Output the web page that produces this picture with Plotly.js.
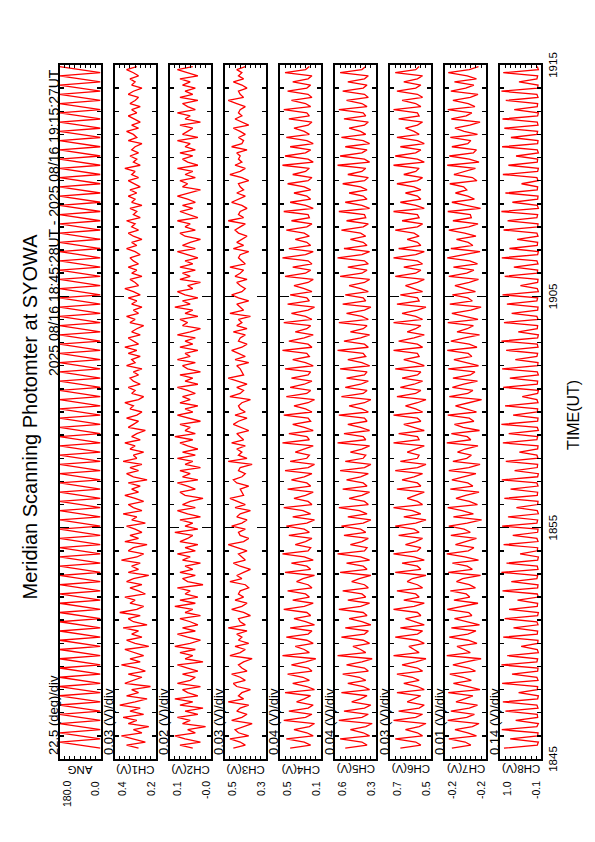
<!DOCTYPE html>
<html><head><meta charset="utf-8">
<script src="https://cdn.plot.ly/plotly-3.0.1.min.js"></script>
<style>
html,body{margin:0;padding:0;width:595px;height:842px;overflow:hidden;background:#fff;}
#plot{position:absolute;left:0;top:0;width:842px;height:595px;transform-origin:0 0;transform:translate(0,842px) rotate(-90deg);}
</style></head><body><div id="plot"></div>
<script>
// ---------------- data ----------------
const TITLE = 'Meridian Scanning Photomter at SYOWA';
const SUBTITLE = '2025 08/16 18:45:28UT - 2025 08/16 19:15:27UT';
const X_TITLE = 'TIME(UT)';
// time in seconds after 18:45:00 ; samples every 8 s from 18:45:28
const START_SEC = 28, STEP_SEC = 8;
const TIME_TICK_SEC = [0, 600, 1200, 1800];
const TIME_TICK_TEXT = ['1845', '1855', '1905', '1915'];

const CHANNEL_NAMES = ['ANG', 'CH1(V)', 'CH2(V)', 'CH3(V)', 'CH4(V)', 'CH5(V)', 'CH6(V)', 'CH7(V)', 'CH8(V)'];
const DIV_LABELS = ['22.5 (deg)/div', '0.03 (V)/div', '0.02 (V)/div', '0.03 (V)/div', '0.04 (V)/div', '0.04 (V)/div', '0.03 (V)/div', '0.01 (V)/div', '0.14 (V)/div'];
const DIV_VALUES = [22.5, 0.03, 0.02, 0.03, 0.04, 0.04, 0.03, 0.01, 0.14];
const Y_BOTTOM = [0, 0.20, -0.03, 0.28, 0.14, 0.28, 0.48, -0.245, -0.10];
const TOP_LABELS = ['180.0', '0.4', '0.1', '0.5', '0.5', '0.6', '0.7', '-0.2', '1.0'];
const BOTTOM_LABELS = ['0.0', '0.2', '-0.0', '0.3', '0.1', '0.3', '0.5', '-0.2', '-0.1'];

const ANG = [
0,90,180,0,90,180,0,90,180,0,90,180, 0,90,180,0,90,180,0,90,180,0,90,180,
0,90,180,0,90,180,0,90,180,0,90,180, 0,90,180,0,90,180,0,90,180,0,90,180,
0,90,180,0,90,180,0,90,180,0,90,180, 0,90,180,0,90,180,0,90,180,0,90,180,
0,90,180,0,90,180,0,90,180,0,90,180, 0,90,180,0,90,180,0,90,180,0,90,180,
0,90,180,0,90,180,0,90,180,0,90,180, 0,90,180,0,90,180,0,90,180,0,90,180,
0,90,180,0,90,180,0,90,180,0,90,180, 0,90,180,0,90,180,0,90,180,0,90,180,
0,90,180,0,90,180,0,90,180,0,90,180, 0,90,180,0,90,180,0,90,180,0,90,180,
0,90,180,0,90,180,0,90,180,0,90,180, 0,90,180,0,90,180,0,90,180,0,90,180,
0,90,180,0,90,180,0,90,180,0,90,180, 0,90,180,0,90,180,0,90,180,0,90,180,
0,90,180,0,90,180];

const CH1 = [
0.30,0.37,0.26,0.34,0.40,0.28,0.33,0.24,0.36,0.31,0.39,0.27,
0.35,0.29,0.41,0.32,0.25,0.37,0.30,0.34,0.23,0.38,0.33,0.28,
0.36,0.26,0.31,0.40,0.29,0.35,0.27,0.33,0.38,0.24,0.32,0.37,
0.28,0.34,0.30,0.39,0.25,0.33,0.36,0.29,0.41,0.31,0.27,0.35,
0.32,0.38,0.26,0.30,0.35,0.28,0.37,0.33,0.24,0.36,0.30,0.34,
0.29,0.40,0.31,0.27,0.36,0.33,0.25,0.38,0.30,0.35,0.28,0.32,
0.37,0.26,0.34,0.31,0.39,0.28,0.33,0.36,0.27,0.32,0.38,0.30,
0.34,0.29,0.36,0.25,0.33,0.37,0.30,0.35,0.28,0.39,0.31,0.33,
0.27,0.35,0.32,0.38,0.29,0.34,0.31,0.26,0.36,0.33,0.30,0.37,
0.31,0.28,0.35,0.33,0.38,0.30,0.27,0.34,0.32,0.36,0.29,0.33,
0.35,0.30,0.33,0.28,0.37,0.32,0.34,0.29,0.36,0.31,0.38,0.30,
0.33,0.36,0.29,0.34,0.31,0.27,0.35,0.32,0.37,0.30,0.33,0.28,
0.34,0.31,0.36,0.29,0.33,0.38,0.30,0.32,0.35,0.28,0.34,0.31,
0.36,0.30,0.33,0.35,0.29,0.32,0.37,0.31,0.34,0.28,0.33,0.36,
0.30,0.34,0.32,0.37,0.29,0.33,0.31,0.35,0.28,0.34,0.32,0.36,
0.31,0.35,0.29,0.33,0.36,0.30,0.34,0.32,0.38,0.29,0.33,0.31,
0.35,0.30,0.34,0.32,0.28,0.36,0.31,0.33,0.37,0.30,0.34,0.29,
0.33,0.36,0.31,0.34,0.29,0.35,0.32,0.30,0.36,0.33,0.28,0.34,
0.32,0.35,0.30,0.33,0.37,0.31];

const CH2 = [
0.04,0.09,0.01,0.07,0.11,0.03,0.06,-0.01,0.08,0.05,0.10,0.02,
0.07,0.00,0.09,0.04,0.11,0.02,0.06,0.08,0.01,0.10,0.05,0.03,
0.08,0.02,0.06,0.10,0.00,0.07,0.04,0.09,0.03,0.11,0.05,0.01,
0.06,0.10,0.03,0.08,0.02,0.05,0.09,0.01,0.07,0.04,0.11,0.03,
0.09,0.02,0.07,0.05,0.10,0.00,0.06,0.08,0.03,0.09,0.04,0.07,
0.01,0.08,0.05,0.10,0.03,0.07,0.02,0.09,0.06,0.04,0.11,0.02,
0.07,0.04,0.09,0.01,0.06,0.10,0.03,0.08,0.05,0.00,0.07,0.09,
0.03,0.06,0.10,0.02,0.08,0.05,0.09,0.01,0.07,0.04,0.10,0.03,
0.08,0.02,0.06,0.09,0.04,0.11,0.03,0.07,0.05,0.09,0.01,0.06,
0.10,0.04,0.07,0.02,0.09,0.05,0.08,0.03,0.06,0.10,0.02,0.07,
0.04,0.09,0.01,0.06,0.08,0.03,0.10,0.05,0.07,0.02,0.09,0.04,
0.07,0.03,0.10,0.05,0.01,0.08,0.06,0.09,0.02,0.07,0.04,0.11,
0.05,0.08,0.02,0.07,0.10,0.04,0.06,0.01,0.09,0.05,0.08,0.03,
0.09,0.04,0.07,0.02,0.06,0.10,0.03,0.08,0.05,0.01,0.07,0.09,
0.03,0.07,0.05,0.10,0.02,0.06,0.09,0.04,0.08,0.03,0.06,0.10,
0.05,0.01,0.08,0.06,0.09,0.03,0.07,0.04,0.10,0.02,0.06,0.08,
0.04,0.09,0.03,0.07,0.05,0.10,0.02,0.08,0.06,0.04,0.09,0.01,
0.07,0.05,0.10,0.03,0.06,0.08,0.02,0.09,0.04,0.07,0.03,0.08,
0.05,0.09,0.02,0.06,0.10,0.04];

const CH3 = [
0.47,0.40,0.43,0.49,0.38,0.44,0.46,0.41,0.36,0.48,0.42,0.39,
0.45,0.43,0.38,0.50,0.41,0.44,0.42,0.37,0.45,0.47,0.40,0.43,
0.48,0.39,0.42,0.44,0.41,0.36,0.49,0.43,0.40,0.46,0.38,0.44,
0.42,0.45,0.39,0.50,0.40,0.43,0.44,0.37,0.41,0.48,0.42,0.39,
0.46,0.41,0.44,0.43,0.38,0.40,0.49,0.42,0.45,0.41,0.37,0.43,
0.47,0.40,0.42,0.44,0.39,0.45,0.50,0.41,0.38,0.43,0.44,0.40,
0.48,0.42,0.39,0.45,0.43,0.37,0.46,0.40,0.44,0.49,0.41,0.42,
0.43,0.38,0.45,0.47,0.42,0.40,0.44,0.43,0.36,0.50,0.39,0.44,
0.42,0.45,0.40,0.48,0.41,0.43,0.45,0.38,0.42,0.47,0.44,0.39,
0.46,0.40,0.43,0.44,0.42,0.37,0.49,0.43,0.41,0.45,0.39,0.44,
0.50,0.41,0.42,0.43,0.45,0.38,0.46,0.40,0.44,0.48,0.42,0.39,
0.44,0.43,0.40,0.47,0.39,0.45,0.42,0.44,0.37,0.49,0.41,0.43,
0.45,0.38,0.44,0.48,0.42,0.40,0.43,0.45,0.39,0.46,0.43,0.41,
0.49,0.40,0.42,0.44,0.43,0.38,0.47,0.41,0.45,0.42,0.39,0.44,
0.46,0.43,0.40,0.50,0.41,0.44,0.43,0.39,0.42,0.48,0.44,0.40,
0.45,0.41,0.43,0.44,0.38,0.42,0.49,0.43,0.40,0.46,0.42,0.44,
0.43,0.45,0.39,0.48,0.42,0.41,0.44,0.40,0.43,0.47,0.38,0.42,
0.46,0.42,0.44,0.43,0.40,0.45,0.50,0.41,0.43,0.44,0.39,0.42,
0.47,0.41,0.44,0.42,0.45,0.40];

const CH4 = [
0.38,0.22,0.27,0.41,0.20,0.25,0.35,0.23,0.19,0.43,0.26,0.21,
0.39,0.24,0.20,0.33,0.27,0.22,0.42,0.19,0.25,0.36,0.23,0.28,
0.40,0.21,0.24,0.37,0.26,0.18,0.44,0.23,0.27,0.34,0.20,0.25,
0.41,0.24,0.21,0.38,0.19,0.26,0.35,0.22,0.25,0.43,0.27,0.20,
0.36,0.23,0.26,0.40,0.21,0.24,0.33,0.28,0.19,0.42,0.22,0.25,
0.37,0.20,0.27,0.44,0.24,0.22,0.34,0.26,0.21,0.39,0.23,0.27,
0.41,0.25,0.19,0.36,0.22,0.28,0.43,0.21,0.24,0.35,0.26,0.20,
0.40,0.22,0.25,0.37,0.27,0.21,0.42,0.24,0.19,0.38,0.25,0.23,
0.34,0.26,0.20,0.44,0.23,0.25,0.39,0.20,0.27,0.36,0.22,0.24,
0.43,0.21,0.26,0.35,0.24,0.19,0.41,0.25,0.22,0.38,0.27,0.21,
0.37,0.24,0.22,0.42,0.20,0.26,0.36,0.23,0.25,0.44,0.21,0.24,
0.39,0.27,0.20,0.34,0.25,0.22,0.43,0.21,0.26,0.37,0.24,0.19,
0.40,0.23,0.25,0.38,0.21,0.27,0.35,0.24,0.20,0.42,0.26,0.22,
0.36,0.21,0.24,0.44,0.26,0.20,0.39,0.22,0.25,0.34,0.23,0.27,
0.41,0.25,0.21,0.37,0.23,0.24,0.43,0.20,0.26,0.38,0.22,0.25,
0.35,0.22,0.27,0.40,0.24,0.21,0.36,0.26,0.23,0.44,0.20,0.24,
0.42,0.26,0.22,0.38,0.20,0.25,0.41,0.23,0.27,0.35,0.24,0.21,
0.39,0.23,0.25,0.43,0.22,0.26,0.37,0.21,0.24,0.40,0.25,0.22,
0.36,0.24,0.21,0.42,0.26,0.23];

const CH5 = [
0.52,0.35,0.39,0.56,0.33,0.38,0.48,0.36,0.31,0.57,0.39,0.34,
0.53,0.37,0.32,0.47,0.40,0.35,0.55,0.33,0.38,0.50,0.36,0.41,
0.54,0.34,0.37,0.51,0.39,0.31,0.58,0.36,0.40,0.46,0.33,0.38,
0.55,0.37,0.34,0.52,0.32,0.39,0.49,0.35,0.38,0.57,0.40,0.33,
0.50,0.36,0.39,0.54,0.34,0.37,0.47,0.41,0.32,0.56,0.35,0.38,
0.51,0.33,0.40,0.58,0.37,0.35,0.48,0.39,0.34,0.53,0.36,0.40,
0.55,0.38,0.32,0.50,0.35,0.41,0.57,0.34,0.37,0.49,0.39,0.33,
0.54,0.35,0.38,0.51,0.40,0.34,0.56,0.37,0.32,0.52,0.38,0.36,
0.48,0.39,0.33,0.58,0.36,0.38,0.53,0.33,0.40,0.50,0.35,0.37,
0.57,0.34,0.39,0.49,0.37,0.32,0.55,0.38,0.35,0.52,0.40,0.34,
0.51,0.37,0.35,0.56,0.33,0.39,0.50,0.36,0.38,0.58,0.34,0.37,
0.53,0.40,0.33,0.48,0.38,0.35,0.57,0.34,0.39,0.51,0.37,0.32,
0.54,0.36,0.38,0.52,0.34,0.40,0.49,0.37,0.33,0.56,0.39,0.35,
0.50,0.34,0.37,0.58,0.39,0.33,0.53,0.35,0.38,0.48,0.36,0.40,
0.55,0.38,0.34,0.51,0.36,0.37,0.57,0.33,0.39,0.52,0.35,0.38,
0.49,0.35,0.40,0.54,0.37,0.34,0.50,0.39,0.36,0.58,0.33,0.37,
0.56,0.39,0.35,0.52,0.33,0.38,0.55,0.36,0.40,0.49,0.37,0.34,
0.53,0.36,0.38,0.57,0.35,0.39,0.51,0.34,0.37,0.54,0.38,0.35,
0.50,0.37,0.34,0.56,0.39,0.36];

const CH6 = [
0.66,0.54,0.57,0.69,0.53,0.56,0.63,0.55,0.51,0.70,0.57,0.53,
0.67,0.55,0.52,0.62,0.58,0.54,0.68,0.52,0.56,0.64,0.55,0.59,
0.68,0.53,0.56,0.65,0.57,0.51,0.70,0.55,0.58,0.61,0.52,0.56,
0.69,0.56,0.53,0.66,0.52,0.57,0.63,0.54,0.56,0.70,0.58,0.52,
0.64,0.55,0.57,0.68,0.53,0.56,0.62,0.59,0.51,0.69,0.54,0.56,
0.65,0.52,0.58,0.70,0.56,0.54,0.63,0.57,0.53,0.67,0.55,0.58,
0.69,0.57,0.51,0.64,0.54,0.59,0.70,0.53,0.56,0.62,0.57,0.52,
0.68,0.54,0.56,0.65,0.58,0.53,0.69,0.56,0.51,0.66,0.56,0.55,
0.62,0.57,0.52,0.70,0.55,0.56,0.67,0.52,0.58,0.64,0.54,0.56,
0.70,0.53,0.57,0.63,0.56,0.51,0.68,0.57,0.54,0.66,0.58,0.53,
0.65,0.56,0.54,0.69,0.52,0.57,0.64,0.55,0.56,0.70,0.53,0.56,
0.67,0.58,0.52,0.62,0.57,0.54,0.70,0.53,0.57,0.65,0.56,0.51,
0.68,0.55,0.56,0.66,0.53,0.58,0.63,0.56,0.52,0.69,0.57,0.54,
0.64,0.53,0.56,0.70,0.57,0.52,0.67,0.54,0.56,0.62,0.55,0.58,
0.69,0.56,0.53,0.65,0.55,0.56,0.70,0.52,0.57,0.66,0.54,0.56,
0.63,0.54,0.58,0.68,0.56,0.53,0.64,0.57,0.55,0.70,0.52,0.56,
0.69,0.57,0.54,0.66,0.52,0.56,0.68,0.55,0.58,0.63,0.56,0.53,
0.67,0.55,0.56,0.70,0.54,0.57,0.65,0.53,0.56,0.68,0.57,0.54,
0.64,0.56,0.53,0.69,0.57,0.55];

const CH7 = [
-0.178,-0.215,-0.204,-0.172,-0.226,-0.209,-0.184,-0.218,-0.231,-0.170,-0.207,-0.222,
-0.176,-0.212,-0.228,-0.186,-0.203,-0.219,-0.171,-0.233,-0.210,-0.181,-0.216,-0.200,
-0.174,-0.224,-0.211,-0.180,-0.206,-0.235,-0.168,-0.214,-0.202,-0.188,-0.227,-0.210,
-0.173,-0.209,-0.225,-0.177,-0.232,-0.205,-0.183,-0.217,-0.211,-0.169,-0.201,-0.229,
-0.182,-0.213,-0.206,-0.175,-0.224,-0.212,-0.187,-0.199,-0.234,-0.171,-0.218,-0.208,
-0.179,-0.230,-0.203,-0.168,-0.210,-0.221,-0.185,-0.207,-0.226,-0.176,-0.214,-0.202,
-0.172,-0.208,-0.236,-0.181,-0.220,-0.198,-0.170,-0.228,-0.212,-0.186,-0.205,-0.231,
-0.175,-0.219,-0.209,-0.178,-0.201,-0.225,-0.172,-0.211,-0.233,-0.180,-0.207,-0.216,
-0.189,-0.204,-0.229,-0.168,-0.215,-0.208,-0.177,-0.232,-0.200,-0.183,-0.221,-0.212,
-0.170,-0.226,-0.206,-0.185,-0.211,-0.236,-0.173,-0.209,-0.219,-0.179,-0.201,-0.228,
-0.180,-0.214,-0.223,-0.171,-0.230,-0.205,-0.182,-0.217,-0.210,-0.169,-0.227,-0.212,
-0.176,-0.203,-0.232,-0.188,-0.208,-0.220,-0.170,-0.229,-0.206,-0.178,-0.215,-0.235,
-0.174,-0.218,-0.209,-0.179,-0.224,-0.202,-0.184,-0.212,-0.230,-0.172,-0.207,-0.221,
-0.181,-0.228,-0.213,-0.169,-0.205,-0.233,-0.176,-0.219,-0.210,-0.187,-0.225,-0.203,
-0.172,-0.211,-0.229,-0.180,-0.216,-0.214,-0.170,-0.234,-0.206,-0.178,-0.222,-0.209,
-0.185,-0.207,-0.201,-0.174,-0.227,-0.218,-0.182,-0.204,-0.224,-0.169,-0.231,-0.212,
-0.173,-0.220,-0.226,-0.178,-0.209,-0.215,-0.175,-0.228,-0.202,-0.184,-0.213,-0.233,
-0.177,-0.206,-0.217,-0.170,-0.223,-0.210,-0.180,-0.214,-0.229,-0.176,-0.205,-0.221,
-0.183,-0.226,-0.208,-0.171,-0.212,-0.230];

const CH8 = [
0.92,0.01,-0.02,0.75,0.00,-0.01,0.98,0.02,-0.02,0.60,0.00,0.01,
0.88,-0.01,0.02,0.95,0.00,-0.02,0.52,0.01,0.00,0.97,-0.01,0.02,
0.70,0.00,-0.01,0.99,0.02,0.00,0.83,-0.02,0.01,0.45,0.00,-0.01,
0.94,0.01,0.00,0.66,-0.01,0.02,0.90,0.00,-0.02,0.78,0.01,0.00,
0.55,-0.02,0.01,0.96,0.00,-0.01,0.72,0.02,0.00,0.99,-0.01,0.01,
0.85,0.00,-0.02,0.48,0.01,0.00,0.93,-0.01,0.02,0.68,0.00,-0.01,
0.97,0.02,0.00,0.81,-0.02,0.01,0.58,0.00,-0.01,0.91,0.01,0.00,
0.74,-0.01,0.02,0.98,0.00,-0.02,0.63,0.01,0.00,0.87,-0.01,0.02,
0.50,0.00,-0.01,0.95,0.02,0.00,0.79,-0.02,0.01,0.99,0.00,-0.01,
0.67,0.01,0.00,0.89,-0.01,0.02,0.42,0.00,-0.02,0.94,0.01,0.00,
0.76,-0.02,0.01,0.97,0.00,-0.01,0.61,0.02,0.00,0.86,-0.01,0.01,
0.99,0.00,-0.02,0.53,0.01,0.00,0.92,-0.01,0.02,0.71,0.00,-0.01,
0.84,0.02,0.00,0.96,-0.02,0.01,0.47,0.00,-0.01,0.90,0.01,0.00,
0.65,-0.01,0.02,0.98,0.00,-0.02,0.77,0.01,0.00,0.56,-0.01,0.02,
0.93,0.00,-0.01,0.82,0.02,0.00,0.99,-0.02,0.01,0.69,0.00,-0.01,
0.88,0.01,0.00,0.44,-0.01,0.02,0.95,0.00,-0.02,0.80,0.01,0.00,
0.59,-0.02,0.01,0.97,0.00,-0.01,0.73,0.02,0.00,0.91,-0.01,0.01,
0.96,0.00,-0.02,0.64,0.01,0.00,0.87,-0.01,0.02,0.99,0.00,-0.01,
0.51,0.02,0.00,0.94,-0.02,0.01];

const SERIES = [ANG, CH1, CH2, CH3, CH4, CH5, CH6, CH7, CH8];

// ---------------- layout (landscape canvas, rotated by CSS) ----------------
const W = 842, H = 595;
const PANEL_X0 = 83, PANEL_X1 = 777;     // px in landscape
const PANEL_TOP0 = 59.5, PANEL_STEP = 55.1, PANEL_H = 41;
const FONT = 'Liberation Sans, Arial, Helvetica, sans-serif';
const RED = '#ff0000';

const times = ANG.map((_, i) => START_SEC + i * STEP_SEC);

const traces = [];
const layout = {
  width: W, height: H,
  margin: {l: 0, r: 0, t: 0, b: 0},
  paper_bgcolor: '#fff', plot_bgcolor: '#fff',
  showlegend: false,
  font: {family: FONT, color: '#000', size: 11},
  title: {text: TITLE, x: 425 / W, xanchor: 'center', y: 1 - 30 / H, yanchor: 'middle',
          font: {family: FONT, size: 20, color: '#000'}},
  annotations: []
};
const xd = [PANEL_X0 / W, PANEL_X1 / W];
const py = v => 1 - v / H;

SERIES.forEach((vals, k) => {
  const s = k === 0 ? '' : String(k + 1);
  const top = PANEL_TOP0 + PANEL_STEP * k;
  const bot = top + PANEL_H;
  const yb = Y_BOTTOM[k], yt = Y_BOTTOM[k] + 8 * DIV_VALUES[k];
  traces.push({x: times, y: vals, xaxis: 'x' + s, yaxis: 'y' + s, type: 'scatter', mode: 'lines',
               line: {color: RED, width: 1.3}, hoverinfo: 'skip'});
  layout['xaxis' + s] = {
    domain: xd, anchor: 'y' + s, range: [0, 1800],
    tickmode: 'array', tickvals: TIME_TICK_SEC, ticktext: TIME_TICK_TEXT,
    ticks: 'inside', ticklen: 9, tickwidth: 1.5, tickcolor: '#000',
    minor: {tickmode: 'linear', tick0: 0, dtick: 60, ticks: 'inside', ticklen: 4, tickwidth: 1.5, tickcolor: '#000', showgrid: false},
    showgrid: false, zeroline: false, showline: true, linecolor: '#000', linewidth: 2, mirror: 'allticks',
    showticklabels: k === SERIES.length - 1, tickfont: {family: FONT, size: 11.5, color: '#000'}
  };
  layout['yaxis' + s] = {
    domain: [py(bot), py(top)], anchor: 'x' + s, range: [yb, yt],
    tickmode: 'linear', tick0: yb, dtick: DIV_VALUES[k],
    ticks: 'inside', ticklen: 3, tickwidth: 1, tickcolor: '#000',
    showticklabels: false, showgrid: false, zeroline: false,
    showline: true, linecolor: '#000', linewidth: 2, mirror: 'allticks'
  };
  // per-division label above panel
  layout.annotations.push({xref: 'paper', yref: 'paper', x: 85 / W, y: py(top - 6), xanchor: 'left', yanchor: 'middle',
    text: DIV_LABELS[k], showarrow: false, font: {family: FONT, size: 13, color: '#000'}});
  // top/bottom value labels
  layout.annotations.push({xref: 'paper', yref: 'paper', x: 63 / W, y: py(top + 7), xanchor: 'right', yanchor: 'middle',
    text: TOP_LABELS[k], showarrow: false, font: {family: FONT, size: 10.5, color: '#000'}});
  layout.annotations.push({xref: 'paper', yref: 'paper', x: 63 / W, y: py(bot - 5), xanchor: 'right', yanchor: 'middle',
    text: BOTTOM_LABELS[k], showarrow: false, font: {family: FONT, size: 10.5, color: '#000'}});
  // channel name (vertical)
  layout.annotations.push({xref: 'paper', yref: 'paper', x: 72.5 / W, y: py((top + bot) / 2), xanchor: 'center', yanchor: 'middle',
    text: CHANNEL_NAMES[k], textangle: -90, showarrow: false, font: {family: FONT, size: 11.5, color: '#000'}});
});
// subtitle
layout.annotations.push({xref: 'paper', yref: 'paper', x: 775 / W, y: py(54), xanchor: 'right', yanchor: 'middle',
  text: SUBTITLE, showarrow: false, font: {family: FONT, size: 14, color: '#000'}});
// x title
layout.annotations.push({xref: 'paper', yref: 'paper', x: 427 / W, y: py(573), xanchor: 'center', yanchor: 'middle',
  text: X_TITLE, showarrow: false, font: {family: FONT, size: 16, color: '#000'}});

Plotly.newPlot('plot', traces, layout, {staticPlot: true, displayModeBar: false});
</script></body></html>
